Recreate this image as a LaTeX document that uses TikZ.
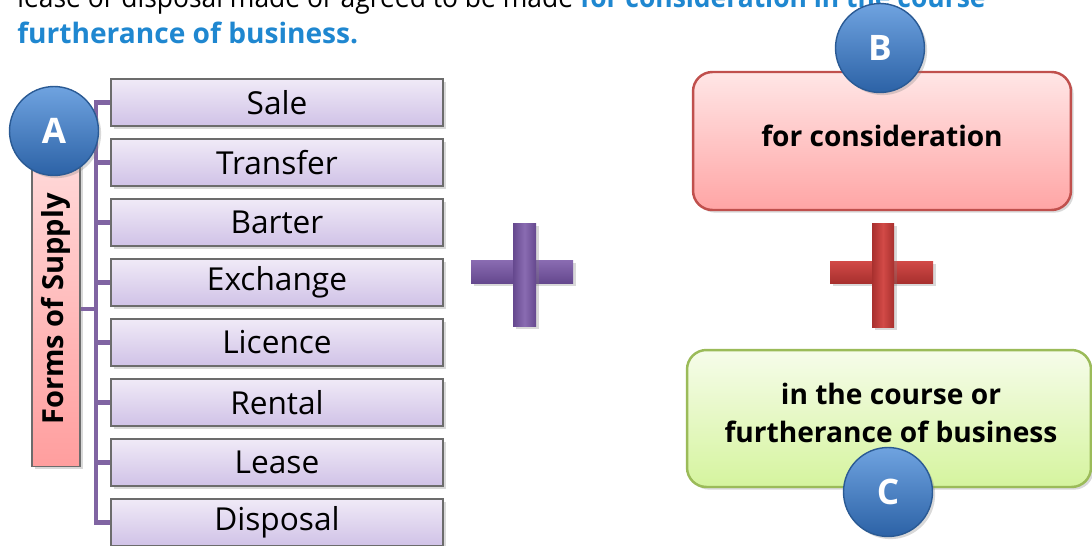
\documentclass[tikz,border=0pt]{standalone}
\usepackage{fontspec}
\setmainfont{Open Sans}
\usetikzlibrary{shadows, calc}

\definecolor{topBlue}{RGB}{31,135,208}
\definecolor{purTop}{HTML}{F0EAF7}
\definecolor{purBot}{HTML}{D0C2E7}
\definecolor{barTop}{HTML}{FFDADA}
\definecolor{barBot}{HTML}{FF9E9E}
\definecolor{spineCol}{HTML}{8064A2}
\definecolor{ballTop}{HTML}{6FA3E0}
\definecolor{ballBot}{HTML}{2C62A6}
\definecolor{ballLine}{HTML}{2A5A94}
\definecolor{bTop}{HTML}{FFE6E6}
\definecolor{bBot}{HTML}{FFA5A5}
\definecolor{bLine}{HTML}{C0504D}
\definecolor{cTop}{HTML}{F6FCEA}
\definecolor{cBot}{HTML}{D5F49E}
\definecolor{cLine}{HTML}{9BBB59}
\definecolor{plusPurLt}{HTML}{8A6CB2}
\definecolor{plusPurDk}{HTML}{65488E}
\definecolor{plusRedLt}{HTML}{D24A47}
\definecolor{plusRedDk}{HTML}{A8302E}

\begin{document}
\begin{tikzpicture}[x=0.02cm, y=-0.02cm]
    \tikzset{
        every node/.style={font=\fontsize{18}{22}\selectfont},
        shadowed/.style={drop shadow={opacity=0.3, shadow xshift=1.5pt, shadow yshift=-1.5pt}},
        formbox/.style={draw=gray!85!black, line width=0.7pt, top color=purTop, bottom color=purBot,
            minimum width=6.64cm, minimum height=0.94cm, inner sep=0pt, shadowed},
        ball/.style={circle, draw=ballLine, line width=0.8pt, top color=ballTop, bottom color=ballBot,
            minimum size=1.78cm, inner sep=0pt, text=white, font=\fontsize{20}{24}\selectfont\bfseries, shadowed},
        bracket/.style={draw=spineCol, line width=2.3pt},
        boldtxt/.style={font=\fontsize{16}{22}\selectfont\bfseries, align=center}
    }

    % 1. 画布大小
    \useasboundingbox (0,0) rectangle (1092,545);
    \clip (0,0) rectangle (1092,545);

    % 2. 顶部文字 (第一行被截掉一半)
    \node[anchor=base west, inner sep=0pt, font=\fontsize{16}{20}\selectfont] (lineOne) at (17,7)
        {\scalebox{0.94}[1]{lease or disposal made or agreed to be made \textcolor{topBlue}{\bfseries for consideration in the course}}};
    \node[anchor=base west, inner sep=0pt, text=topBlue, font=\fontsize{16}{20}\selectfont\bfseries] (lineTwo) at (17,43)
        {furtherance of business.};

    % 3. 左侧: Forms of Supply
    \node[draw=gray!85!black, line width=0.7pt, top color=barTop, bottom color=barBot,
        minimum width=0.96cm, minimum height=6.3cm, inner sep=0pt, shadowed,
        font=\fontsize{16.5}{18}\selectfont\bfseries] (forms) at (56,309) {\rotatebox{90}{Forms of Supply}};
    \coordinate (spine) at (96,102);

    \foreach \name [count=\i] in {Sale, Transfer, Barter, Exchange, Licence, Rental, Lease, Disposal}
        \node[formbox] (f\i) at (277, 42.5+60*\i) {\name};

    \draw[bracket] (f1.west) -- (f1.west -| spine) -- (f8.west -| spine) -- (f8.west);
    \foreach \i in {2,...,7}
        \draw[bracket] (f\i.west) -- (f\i.west -| spine);
    \draw[bracket] (forms.east) -- (forms.east -| spine);

    \node[ball] (A) at (54,131) {A};

    % 4. 紫色加号
    \shade[top color=plusPurLt, bottom color=plusPurDk, shadowed] (471,260) rectangle (573,283);
    \shade[left color=plusPurDk, right color=plusPurDk, middle color=plusPurLt, shadowed] (513,223) rectangle (536,326);

    % 5. 右侧: B 和 C
    \node[draw=bLine, line width=1.4pt, rounded corners=11pt, top color=bTop, bottom color=bBot,
        minimum width=7.56cm, minimum height=2.76cm, shadowed] (boxB) at (882,141) {};
    \node[boldtxt] (txtB) at (882,136) {for consideration};
    \node[ball] (B) at (880,48) {B};

    % 红色加号
    \shade[top color=plusRedLt, bottom color=plusRedDk, shadowed] (830,261) rectangle (933,283);
    \shade[left color=plusRedDk, right color=plusRedDk, middle color=plusRedLt, shadowed] (872,223) rectangle (894,327);

    \node[draw=cLine, line width=1.4pt, rounded corners=11pt, top color=cTop, bottom color=cBot,
        minimum width=8.08cm, minimum height=2.74cm, shadowed] (boxC) at (889,418.5) {};
    \node[boldtxt] (txtC) at (891,413) {in the course or\\furtherance of business};
    \node[ball] (C) at (888,492) {C};

\end{tikzpicture}
\end{document}
